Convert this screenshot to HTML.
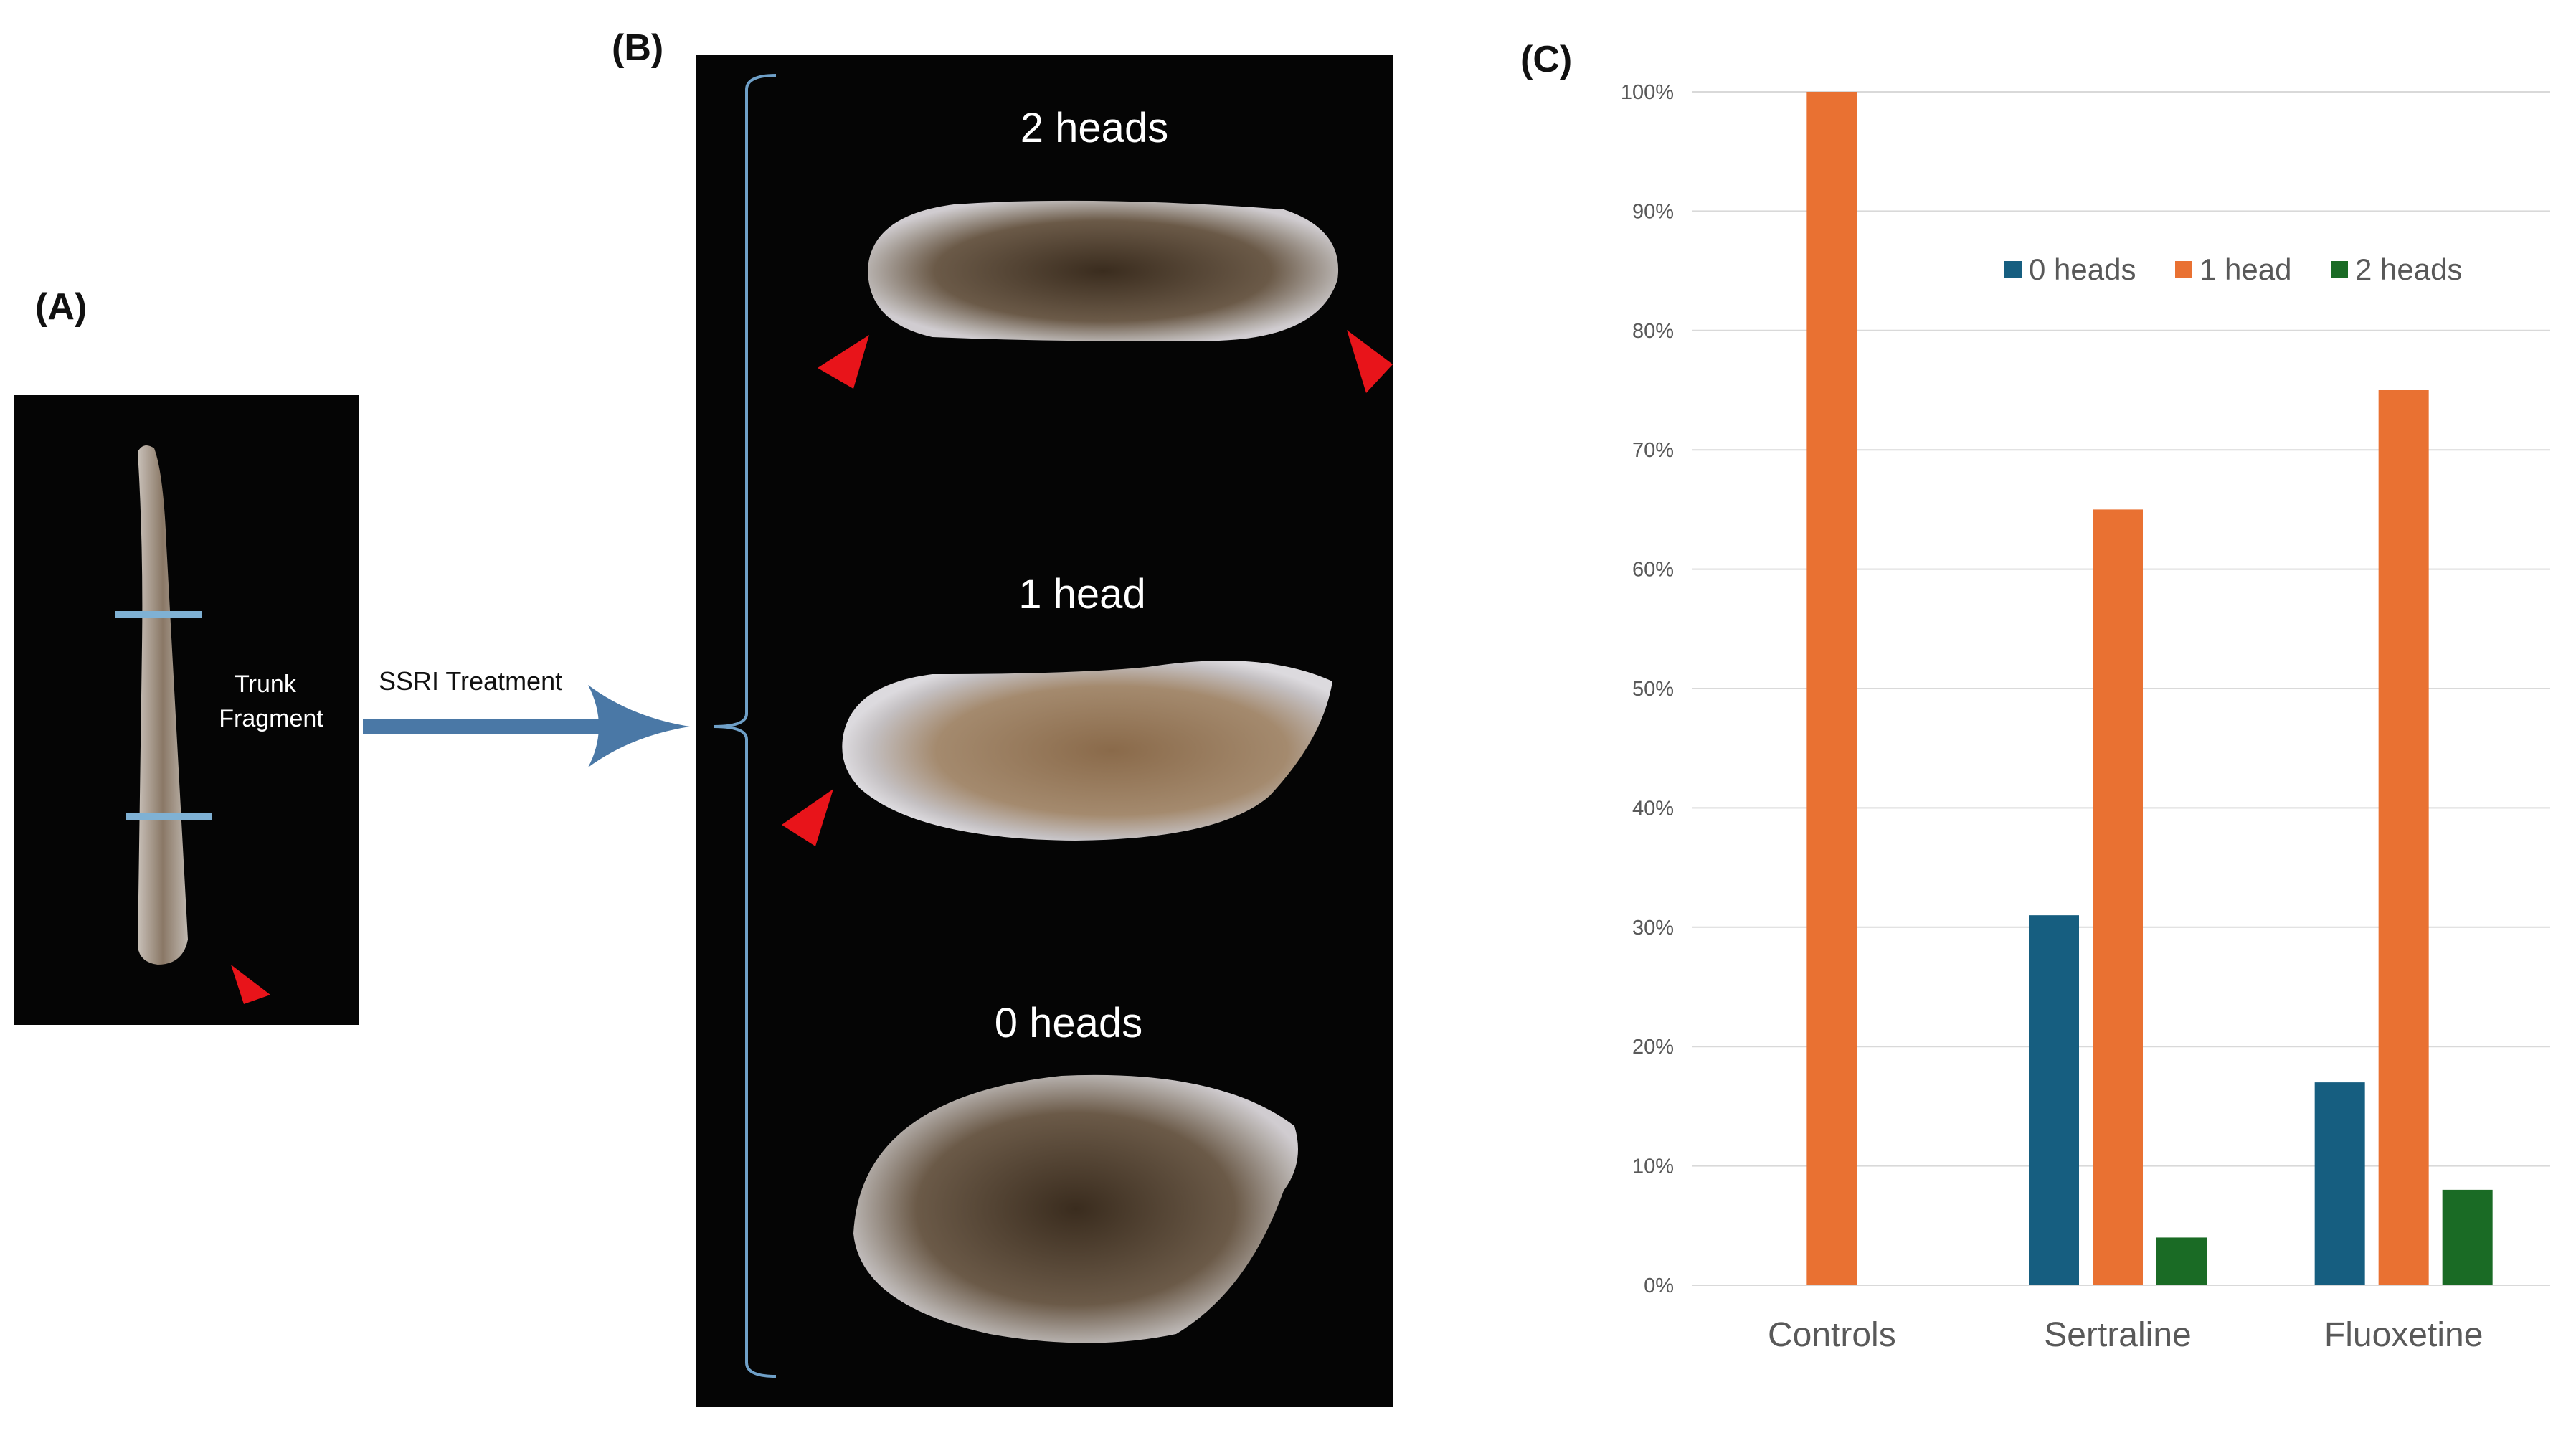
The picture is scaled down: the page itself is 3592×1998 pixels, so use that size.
<!DOCTYPE html>
<html><head><meta charset="utf-8">
<style>
html,body{margin:0;padding:0;background:#fff;}
svg{display:block;}
text{font-family:"Liberation Sans",sans-serif;}
</style></head>
<body>
<svg id="fig" width="3592" height="1998" viewBox="0 0 3592 1998" xmlns="http://www.w3.org/2000/svg">
<defs>
<radialGradient id="wormDark" cx="50%" cy="50%" r="55%">
<stop offset="0%" stop-color="#3a2c1e"/><stop offset="65%" stop-color="#6b5a48"/><stop offset="90%" stop-color="#b4aeaa"/><stop offset="100%" stop-color="#d0ccd0"/>
</radialGradient>
<radialGradient id="wormLight" cx="55%" cy="50%" r="55%">
<stop offset="0%" stop-color="#8a6a4a"/><stop offset="65%" stop-color="#a48a6e"/><stop offset="90%" stop-color="#c4c0c2"/><stop offset="100%" stop-color="#dcdade"/>
</radialGradient>
<linearGradient id="wormA" x1="0" x2="1"><stop offset="0" stop-color="#c8c0b8"/><stop offset="0.5" stop-color="#8a7866"/><stop offset="1" stop-color="#c0b8b0"/></linearGradient>
</defs>

<!-- Panel A -->
<text x="49" y="445" font-size="52" font-weight="bold" fill="#111">(A)</text>
<rect x="20" y="551" width="480" height="878" fill="#050505"/>
<path d="M192 630 Q200 615 215 625 Q228 660 232 760 L262 1310 Q255 1345 220 1345 Q195 1342 192 1320 L198 900 Q200 760 192 630 Z" fill="url(#wormA)"/>
<rect x="160" y="852" width="122" height="9" fill="#7fb1d4"/>
<rect x="176" y="1134" width="120" height="9" fill="#7fb1d4"/>
<text x="370" y="965" font-size="34" fill="#fff" text-anchor="middle">Trunk</text>
<text x="378" y="1013" font-size="34" fill="#fff" text-anchor="middle">Fragment</text>
<polygon points="322,1345 377,1387 340,1400" fill="#e8141a"/>

<!-- Arrow -->
<text x="528" y="962" font-size="36" fill="#111">SSRI Treatment</text>
<rect x="506" y="1002" width="340" height="22" fill="#4a78a6"/>
<path d="M820 955 Q880 1000 962 1013 Q880 1026 820 1070 Q850 1013 820 955 Z" fill="#4a78a6"/>

<!-- Panel B -->
<text x="853" y="84" font-size="52" font-weight="bold" fill="#111">(B)</text>
<rect x="970" y="77" width="972" height="1885" fill="#050505"/>
<path d="M1082 105 Q1041 105 1041 125 L1041 995 Q1041 1013 995 1013 Q1041 1013 1041 1031 L1041 1900 Q1041 1919 1082 1919" fill="none" stroke="#6fa0c8" stroke-width="4"/>

<text x="1526" y="198" font-size="58" fill="#fff" text-anchor="middle">2 heads</text>
<path d="M1210 375 Q1215 300 1330 285 Q1520 272 1790 292 Q1875 320 1865 390 Q1840 470 1700 475 Q1500 478 1300 470 Q1210 450 1210 375 Z" fill="url(#wormDark)"/>
<polygon points="1212,467 1140,513 1190,542" fill="#e8141a"/>
<polygon points="1878,460 1942,508 1905,548" fill="#e8141a"/>

<text x="1509" y="848" font-size="58" fill="#fff" text-anchor="middle">1 head</text>
<path d="M1175 1030 Q1185 955 1300 940 Q1500 940 1600 930 Q1760 905 1858 950 Q1845 1030 1770 1110 Q1700 1170 1500 1172 Q1280 1170 1200 1100 Q1170 1070 1175 1030 Z" fill="url(#wormLight)"/>
<polygon points="1162,1100 1090,1150 1137,1180" fill="#e8141a"/>

<text x="1490" y="1446" font-size="58" fill="#fff" text-anchor="middle">0 heads</text>
<path d="M1190 1720 Q1200 1530 1480 1500 Q1700 1490 1805 1570 Q1820 1620 1790 1660 Q1740 1800 1640 1860 Q1520 1885 1380 1860 Q1200 1820 1190 1720 Z" fill="url(#wormDark)"/>

<!-- Panel C -->
<text x="2120" y="100" font-size="52" font-weight="bold" fill="#111">(C)</text>
<g id="chart"></g>
</svg>
<script>
const categories = ["Controls", "Sertraline", "Fluoxetine"];
const zeroHeads = [0, 31, 17];
const oneHead = [100, 65, 75];
const twoHeads = [0, 4, 8];
const yTicks = [0, 10, 20, 30, 40, 50, 60, 70, 80, 90, 100];
const seriesNames = ["0 heads", "1 head", "2 heads"];

const NS = "http://www.w3.org/2000/svg";
const g = document.getElementById("chart");
const X0 = 2360, X1 = 3556, Y0 = 1792, Y100 = 128;
const band = (X1 - X0) / categories.length;
const barW = 70, step = 89;
const colors = ["#165e80", "#e97132", "#1a6b25"];
const series = [zeroHeads, oneHead, twoHeads];
function yScale(v){ return Y0 - (Y0 - Y100) * v / 100; }
function xCenter(i){ return X0 + band * (i + 0.5) - 5; }
function mk(tag, attrs){ const e = document.createElementNS(NS, tag); for (const k in attrs) e.setAttribute(k, attrs[k]); g.appendChild(e); return e; }

yTicks.forEach(t => {
  const y = yScale(t);
  const l = mk("line", {x1: X0, x2: X1, y1: y, y2: y, stroke: "#d9d9d9", "stroke-width": 2});
  
  
  const tx = mk("text", {x: 2334, y: y + 10, "font-size": 29, fill: "#595959", "text-anchor": "end"});
  tx.textContent = t + "%";
  
  
});

series.forEach((vals, s) => {
  vals.forEach((v, i) => {
    if (v <= 0) return;
    const cx = xCenter(i) + (s - 1) * step;
    const r = mk("rect", {x: cx - barW / 2, y: yScale(v), width: barW, height: yScale(0) - yScale(v), fill: colors[s]});
    
    
  });
});

categories.forEach((c, i) => {
  const t = mk("text", {x: xCenter(i), y: 1877, "font-size": 48, fill: "#595959", "text-anchor": "middle"});
  t.textContent = c;
  
  
});

const legX = [2795, 3033, 3250];
seriesNames.forEach((n, s) => {
  const r = mk("rect", {x: legX[s], y: 364, width: 24, height: 24, fill: colors[s]});
  
  
  const t = mk("text", {x: legX[s] + 34, y: 390, "font-size": 42, fill: "#595959"});
  t.textContent = n;
  
  
});
</script>
</body></html>
